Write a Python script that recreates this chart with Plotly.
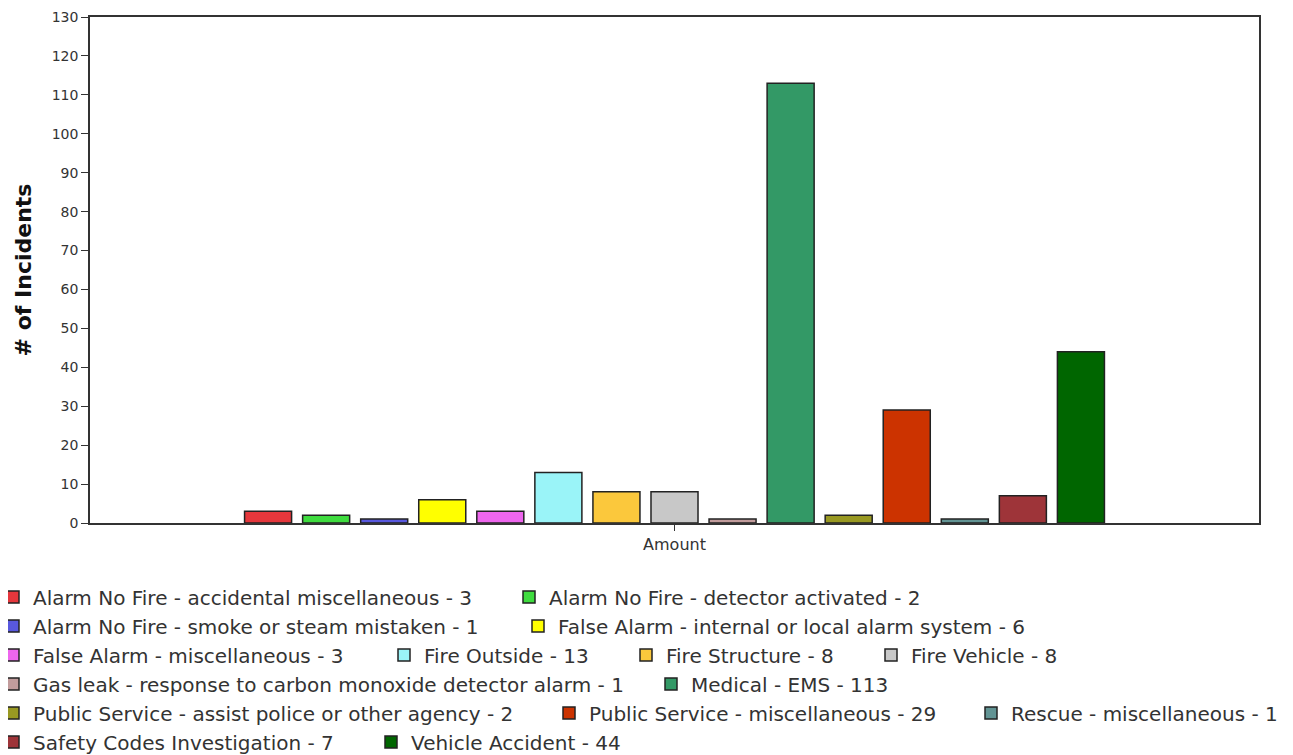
import plotly.graph_objects as go

# ---- data ----
categories = [
    "Alarm No Fire - accidental miscellaneous",
    "Alarm No Fire - detector activated",
    "Alarm No Fire - smoke or steam mistaken",
    "False Alarm - internal or local alarm system",
    "False Alarm - miscellaneous",
    "Fire Outside",
    "Fire Structure",
    "Fire Vehicle",
    "Gas leak - response to carbon monoxide detector alarm",
    "Medical - EMS",
    "Public Service - assist police or other agency",
    "Public Service - miscellaneous",
    "Rescue - miscellaneous",
    "Safety Codes Investigation",
    "Vehicle Accident",
]
values = [3, 2, 1, 6, 3, 13, 8, 8, 1, 113, 2, 29, 1, 7, 44]
x_category = ["Amount"]
y_ticks = list(range(0, 131, 10))

# ---- styles ----
colors = [
    "#E5373C", "#3FDC3F", "#5858DE", "#FFFF00", "#EE66EE",
    "#9AF4F8", "#FBC83C", "#C8C8C8", "#C29C9C", "#339966",
    "#999922", "#CC3300", "#629494", "#9E3439", "#006600",
]
# legend entry placement in page pixels (symbol left, row centre) – layout only
legend_pos_px = [
    (7, 597), (523, 597),
    (7, 626), (532, 626),
    (7, 655), (398, 655), (640, 655), (885, 655),
    (7, 684), (665, 684),
    (7, 713), (563, 713), (985, 713),
    (7, 742), (385, 742),
]

OFF = 8                      # page body margin
W, H = 1293 - OFF, 755 - OFF
L = 90 - OFF
T = 17 - OFF
R = W - (1259 - OFF)
B = H - (523 - OFF)
pw = W - L - R
ph = H - T - B
FONT = "DejaVu Sans"

fig = go.Figure()
legends = {}
for i, (cat, val, col) in enumerate(zip(categories, values, colors)):
    lk = "legend" if i == 0 else f"legend{i + 1}"
    fig.add_trace(go.Bar(
        x=x_category, y=[val], name=f"{cat} - {val}",
        marker=dict(color=col, line=dict(color="#222222", width=1.5)),
        legend=lk, showlegend=True, hoverinfo="name",
    ))
    sx, sy = legend_pos_px[i]
    sx -= OFF
    sy -= OFF
    legends[lk] = dict(
        x=(sx - 14 - L) / pw, y=(H - B - sy) / ph,
        xanchor="left", yanchor="middle", orientation="h",
        bgcolor="rgba(0,0,0,0)", borderwidth=0, visible=True,
        font=dict(family=FONT, size=20, color="#333333"),
    )

fig.update_layout(
    width=W, height=H, showlegend=True,
    margin=dict(l=L, r=R, t=T, b=B, autoexpand=False),
    paper_bgcolor="white", plot_bgcolor="white",
    barmode="group", bargap=0.255, bargroupgap=0.19,
    font=dict(family=FONT, color="#333333"),
    xaxis=dict(
        showline=True, linecolor="#333333", linewidth=1.5, mirror=True,
        ticks="outside", ticklen=6, tickcolor="#333333",
        tickfont=dict(family=FONT, size=16, color="#333333"),
        showgrid=False, zeroline=False,
    ),
    yaxis=dict(
        range=[0, 130], tickvals=y_ticks,
        showline=True, linecolor="#333333", linewidth=1.5, mirror=True,
        ticks="outside", ticklen=7, tickcolor="#333333",
        tickfont=dict(family=FONT, size=14, color="#333333"),
        showgrid=False, zeroline=False,
        title=dict(text="<b># of Incidents</b>", font=dict(family=FONT, size=22, color="#111111"), standoff=14),
    ),
    **legends,
)

fig.write_html("out.html")
